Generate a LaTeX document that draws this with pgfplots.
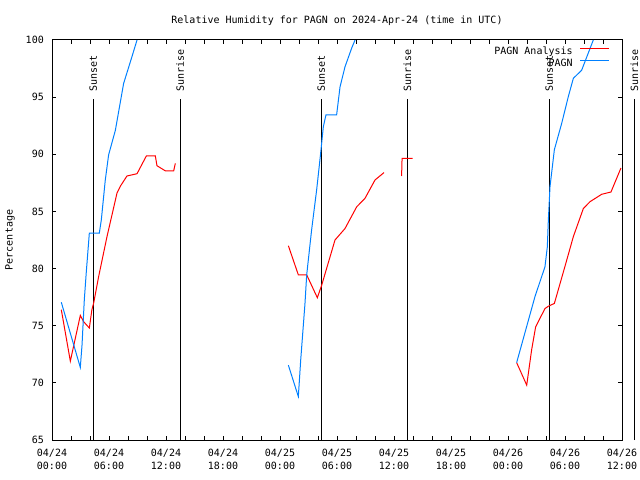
\documentclass[border=0pt]{standalone}
\usepackage{fontspec}
\setmainfont{DejaVu Sans Mono}
\usepackage{pgfplots}
\pgfplotsset{compat=1.18}
\definecolor{pblue}{RGB}{0,128,255}
\newcommand{\gfont}{\fontsize{10bp}{13bp}\selectfont}
\begin{document}
\gfont
\begin{tikzpicture}
\useasboundingbox (0,0) rectangle (640bp,480bp);
\begin{axis}[
  at={(52bp,40bp)}, anchor=south west,
  scale only axis, width=570bp, height=400bp,
  xmin=0, xmax=60, ymin=65, ymax=100,
  clip mode=individual,
  unbounded coords=jump,
  xtick={0,6,...,60},
  xticklabels={{04/24\\00:00},{04/24\\06:00},{04/24\\12:00},{04/24\\18:00},{04/25\\00:00},{04/25\\06:00},{04/25\\12:00},{04/25\\18:00},{04/26\\00:00},{04/26\\06:00},{04/26\\12:00}},
  minor xtick={2,4,8,10,14,16,20,22,26,28,32,34,38,40,44,46,50,52,56,58},
  ytick={65,70,...,100},
  major tick length=4bp, minor tick length=4bp,
  tick style={black, line width=1bp},
  axis line style={black, line width=1bp},
  tick align=inside,
  /pgf/number format/assume math mode=true,
  tick label style={font=\gfont},
  xticklabel style={align=center, anchor=north, inner sep=0pt, yshift=-9bp},
  yticklabel style={anchor=east, inner sep=0pt, xshift=-8bp},
  title={Relative Humidity for PAGN on 2024-Apr-24 (time in UTC)},
  title style={at={(axis description cs:0.5,1)}, anchor=center, yshift=13bp, inner sep=0pt, font=\gfont},
  ylabel={Percentage},
  ylabel style={at={(axis description cs:-0.0737,0.5)}, anchor=center, inner sep=0pt, font=\gfont},
  legend style={draw=none, fill=none, at={(axis description cs:0.979,0.9825)}, anchor=north east,
    inner sep=0pt, row sep=2bp, column sep=7bp, font=\gfont,
    nodes={inner sep=0pt, text height=7.5bp, text depth=2.5bp}},
  legend plot pos=right,
  legend cell align=right,
]
\draw[black, line width=1bp] (axis cs:4.35,65) -- (axis cs:4.35,94.84);
\node[rotate=90, anchor=west, inner sep=0pt, font=\gfont] at ([yshift=7bp]axis cs:4.35,94.84) {Sunset};
\draw[black, line width=1bp] (axis cs:13.5,65) -- (axis cs:13.5,94.84);
\node[rotate=90, anchor=west, inner sep=0pt, font=\gfont] at ([yshift=7bp]axis cs:13.5,94.84) {Sunrise};
\draw[black, line width=1bp] (axis cs:28.35,65) -- (axis cs:28.35,94.84);
\node[rotate=90, anchor=west, inner sep=0pt, font=\gfont] at ([yshift=7bp]axis cs:28.35,94.84) {Sunset};
\draw[black, line width=1bp] (axis cs:37.4,65) -- (axis cs:37.4,94.84);
\node[rotate=90, anchor=west, inner sep=0pt, font=\gfont] at ([yshift=7bp]axis cs:37.4,94.84) {Sunrise};
\draw[black, line width=1bp] (axis cs:52.35,65) -- (axis cs:52.35,94.84);
\node[rotate=90, anchor=west, inner sep=0pt, font=\gfont] at ([yshift=7bp]axis cs:52.35,94.84) {Sunset};
\draw[black, line width=1bp] (axis cs:61.3,65) -- (axis cs:61.3,94.84);
\node[rotate=90, anchor=west, inner sep=0pt, font=\gfont] at ([yshift=7bp]axis cs:61.3,94.84) {Sunrise};

\addlegendimage{legend image code/.code={\draw[draw=red, line width=1.2bp] (0bp,3.5bp) -- (29bp,3.5bp);}}
\addlegendentry{PAGN Analysis}
\addlegendimage{legend image code/.code={\draw[draw=pblue, line width=1.2bp] (0bp,3.5bp) -- (29bp,3.5bp);}}
\addlegendentry{PAGN}

\addplot[color=red, line width=1bp, forget plot] coordinates {
(0.98,76.4) (1.93,71.9) (2.98,75.9) (3.33,75.35) (3.93,74.8) (4.2,76.4) (4.39,77.0) (4.91,79.3) (5.79,82.8) (6.84,86.6) (7.19,87.2) (7.89,88.1) (8.95,88.3) (9.93,89.85) (10.88,89.85) (11.05,89.0) (11.93,88.55) (12.81,88.55) (12.98,89.2)
(18,nan)
(24.88,82.0) (25.93,79.45) (26.81,79.45) (27.93,77.45) (28.39,78.55) (29.79,82.5) (30.84,83.5) (32.07,85.4) (32.95,86.15) (34.0,87.75) (34.95,88.4)
(36,nan)
(36.8,88.1) (36.85,89.65) (37.96,89.65)
(42,nan)
(48.91,71.77) (49.97,69.8) (50.49,72.9) (50.91,74.9) (51.89,76.5) (52.24,76.7) (52.88,76.95) (54.0,80.2) (54.88,82.8) (55.93,85.25) (56.63,85.85) (57.86,86.5) (58.84,86.7) (59.89,88.8)
};
\addplot[color=pblue, line width=1bp, forget plot] coordinates {
(0.98,77.05) (2.98,71.35) (3.16,73.3) (3.4,77.25) (3.61,79.7) (3.93,83.1) (4.98,83.1) (5.19,84.25) (5.61,87.75) (5.96,89.95) (6.67,92.1) (7.54,96.2) (8.42,98.55) (8.95,100)
(18,nan)
(24.88,71.55) (25.93,68.8) (26.18,72.0) (26.63,76.95) (26.81,79.45) (27.33,83.4) (27.86,86.9) (28.28,90.1) (28.56,92.4) (28.84,93.45) (29.96,93.45) (30.32,95.9) (30.84,97.65) (31.55,99.3) (31.9,100)
(42,nan)
(48.91,71.77) (50.84,77.55) (51.89,80.15) (52.14,81.9) (52.24,84.1) (52.42,87.15) (52.88,90.4) (53.65,92.7) (54.35,95.05) (54.88,96.65) (55.75,97.35) (56.98,100)
};
\end{axis}
\end{tikzpicture}
\end{document}
